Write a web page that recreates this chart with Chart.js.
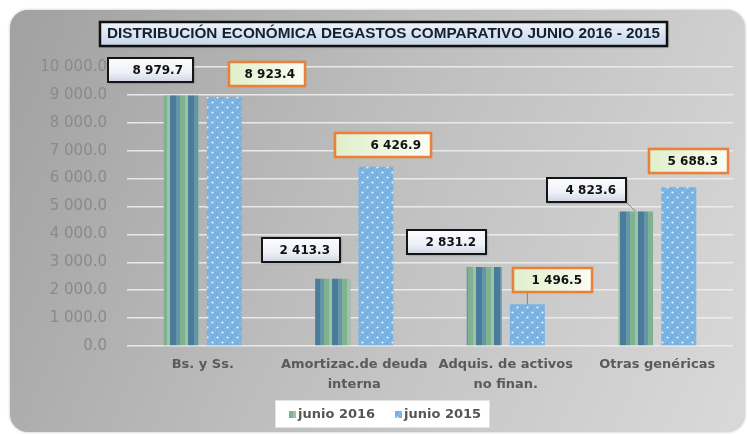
<!DOCTYPE html>
<html><head><meta charset="utf-8">
<script src="https://cdn.jsdelivr.net/npm/chart.js@4.4.1/dist/chart.umd.min.js"></script>
<style>html,body{margin:0;padding:0;background:#fff;}#wrap{width:747px;height:434px;}</style>
</head><body><div id="wrap"><canvas id="c" width="747" height="434"></canvas></div>
<script>
// ---- data ----
const categories = [["Bs. y Ss."], ["Amortizac.de deuda", "interna"], ["Adquis. de activos", "no finan."], ["Otras genéricas"]];
const seriesNames = ["junio 2016", "junio 2015"];
const junio2016 = [8979.7, 2413.3, 2831.2, 4823.6];
const junio2015 = [8923.4, 6426.9, 1496.5, 5688.3];
const yTicks = [0, 1000, 2000, 3000, 4000, 5000, 6000, 7000, 8000, 9000, 10000];
const titleText = "DISTRIBUCIÓN ECONÓMICA DEGASTOS COMPARATIVO JUNIO 2016 - 2015";

// ---- styling (label box placement relative to bar top) ----
const labelLayout = [
  [{dx:-31,dy:-25,w:85},{dx:-32,dy:-29,w:78},{dx:-38,dy:-25,w:79},{dx:-49,dy:-21,w:79,leader:true}],
  [{dx:43,dy:-23,w:76},{dx:7,dy:-22,w:96},{dx:25,dy:-24,w:79,leader:true},{dx:10,dy:-26,w:79}]
];

function fmt(v){
  const s = Number(v).toFixed(1);
  const [i, d] = s.split('.');
  return i.replace(/\B(?=(\d{3})+(?!\d))/g, ' ') + '.' + d;
}

function stripePattern(){
  const c = document.createElement('canvas'); c.width = 18; c.height = 4;
  const x = c.getContext('2d');
  const seq = [['#80b292',5],['#9ac6a3',3],['#4a7b9a',6],['#6495a9',4]];
  let p = 0;
  for (const [col,w] of seq){ x.fillStyle = col; x.fillRect(p,0,w,4); p += w; }
  return x.createPattern(c,'repeat');
}
function dotPattern(){
  const c = document.createElement('canvas'); c.width = 10; c.height = 10;
  const x = c.getContext('2d');
  x.fillStyle = '#7ab2e1'; x.fillRect(0,0,10,10);
  x.fillStyle = '#92c3ec'; x.fillRect(0,5,1,1); x.fillRect(5,0,1,1); x.fillRect(4,8,1,1); x.fillRect(9,3,1,1);
  x.fillStyle = '#68a3d6'; x.fillRect(1,8,1,1); x.fillRect(6,3,1,1);
  x.fillStyle = 'rgba(255,255,255,0.85)';
  x.beginPath(); x.arc(2.5,2.5,1.1,0,Math.PI*2); x.fill();
  x.beginPath(); x.arc(7.5,7.5,1.1,0,Math.PI*2); x.fill();
  return x.createPattern(c,'repeat');
}
const pat2016 = stripePattern();
const pat2015 = dotPattern();

const panelPlugin = {
  id: 'panel',
  beforeDraw(chart){
    const ctx = chart.ctx;
    ctx.save();
    ctx.fillStyle = '#ffffff'; ctx.fillRect(0,0,chart.width,chart.height);
    const g = ctx.createLinearGradient(10,60,745,380);
    g.addColorStop(0,'#a2a2a2'); g.addColorStop(0.45,'#bdbdbd'); g.addColorStop(1,'#d8d8d8');
    ctx.shadowColor = 'rgba(0,0,0,0.25)'; ctx.shadowBlur = 3;
    ctx.beginPath(); ctx.roundRect(10,10,735,422,18); ctx.fillStyle = g; ctx.fill();
    ctx.restore();
  },
  afterDraw(chart){
    const ctx = chart.ctx;
    // title box
    ctx.save();
    const tg = ctx.createLinearGradient(0,22,0,46);
    tg.addColorStop(0,'#eef3fa'); tg.addColorStop(1,'#c8d6e8');
    ctx.shadowColor='rgba(0,0,0,0.35)'; ctx.shadowBlur=2; ctx.shadowOffsetX=1; ctx.shadowOffsetY=1;
    ctx.fillStyle = tg; ctx.fillRect(100,22,567,24);
    ctx.shadowColor='transparent';
    ctx.lineWidth = 2.5; ctx.strokeStyle = '#111'; ctx.strokeRect(100,22,567,24);
    ctx.fillStyle = '#14202c'; ctx.font = 'bold 14px "Liberation Sans", Arial, sans-serif';
    ctx.textBaseline = 'middle'; ctx.textAlign = 'left';
    const tw = ctx.measureText(titleText).width;
    ctx.translate(107, 34.5);
    ctx.scale(553 / tw, 1);
    ctx.fillText(titleText, 0, 0);
    ctx.restore();

    // legend
    ctx.save();
    ctx.fillStyle = '#ffffff'; ctx.fillRect(275,400,215,28);
    ctx.strokeStyle = '#e2e2e2'; ctx.lineWidth = 1; ctx.strokeRect(275.5,400.5,214,27);
    ctx.font = 'bold 13px "DejaVu Sans", sans-serif';
    ctx.textBaseline = 'middle'; ctx.textAlign = 'left';
    ctx.fillStyle = pat2016; ctx.fillRect(289,411,7,7);
    ctx.fillStyle = '#555'; ctx.fillText(seriesNames[0], 298, 414.5);
    ctx.fillStyle = pat2015; ctx.fillRect(395,411,7,7);
    ctx.fillStyle = '#555'; ctx.fillText(seriesNames[1], 404, 414.5);
    ctx.restore();
  },
  afterDatasetsDraw(chart){
    const ctx = chart.ctx;
    chart.data.datasets.forEach((ds, di) => {
      const meta = chart.getDatasetMeta(di);
      meta.data.forEach((bar, i) => {
        const L = labelLayout[di][i];
        const h = 24, w = L.w;
        const cx = bar.x + L.dx, cy = bar.y + L.dy;
        const x0 = Math.round(cx - w/2), y0 = Math.round(cy - h/2);
        ctx.save();
        if (L.leader){
          ctx.strokeStyle = 'rgba(110,110,110,0.8)'; ctx.lineWidth = 1;
          const lx = Math.min(Math.max(bar.x, x0), x0+w);
          ctx.beginPath(); ctx.moveTo(lx, y0+h); ctx.lineTo(bar.x, bar.y); ctx.stroke();
        }
        let g;
        if (di === 0){
          g = ctx.createLinearGradient(0,y0,0,y0+h);
          g.addColorStop(0,'#fbfcfe'); g.addColorStop(0.6,'#eef1f8'); g.addColorStop(1,'#cfd6e3');
          ctx.shadowColor='rgba(0,0,0,0.4)'; ctx.shadowBlur=2; ctx.shadowOffsetX=1; ctx.shadowOffsetY=1;
        } else {
          g = ctx.createLinearGradient(x0,0,x0+w,0);
          g.addColorStop(0,'#e0efcc'); g.addColorStop(1,'#fafcf2');
          ctx.shadowColor='rgba(230,120,40,0.55)'; ctx.shadowBlur=3;
        }
        ctx.fillStyle = g; ctx.fillRect(x0,y0,w,h);
        ctx.shadowColor = 'transparent';
        ctx.lineWidth = di === 0 ? 2 : 2.5;
        ctx.strokeStyle = di === 0 ? '#151515' : '#e8813a';
        ctx.strokeRect(x0,y0,w,h);
        ctx.fillStyle = '#111'; ctx.font = 'bold 12px "DejaVu Sans", sans-serif';
        ctx.textAlign = 'right'; ctx.textBaseline = 'middle';
        ctx.fillText(fmt(ds.data[i]), x0 + w - 10, y0 + h/2 + 0.5);
        ctx.restore();
      });
    });
  }
};

new Chart(document.getElementById('c'), {
  type: 'bar',
  data: {
    labels: categories,
    datasets: [
      { label: seriesNames[0], data: junio2016, backgroundColor: pat2016, borderWidth: 0 },
      { label: seriesNames[1], data: junio2015, backgroundColor: pat2015, borderWidth: 0 }
    ]
  },
  options: {
    responsive: false, animation: false, devicePixelRatio: 1,
    categoryPercentage: 0.57, barPercentage: 0.81,
    layout: { padding: { top: 67, right: 14, bottom: 0, left: 0 } },
    plugins: { legend: { display: false }, title: { display: false }, tooltip: { enabled: false } },
    scales: {
      x: {
        grid: { display: false, drawTicks: false }, border: { display: false },
        ticks: { color: '#5a5a5a', font: { family: '"DejaVu Sans", sans-serif', size: 13, weight: 'bold', lineHeight: 1.5 }, padding: 9, maxRotation: 0, autoSkip: false },
        afterFit(s){ s.height = 88; }
      },
      y: {
        min: 0, max: 10000,
        afterBuildTicks(s){ s.ticks = yTicks.map(v => ({ value: v })); },
        grid: { color: 'rgba(238,238,238,0.9)', lineWidth: 1.5, drawTicks: false },
        border: { display: false },
        ticks: { color: '#8a8a8a', font: { family: '"DejaVu Sans", sans-serif', size: 15 }, padding: 20, callback: v => fmt(v) },
        afterFit(s){ s.width = 127; }
      }
    }
  },
  plugins: [panelPlugin]
});
</script>
</body></html>
